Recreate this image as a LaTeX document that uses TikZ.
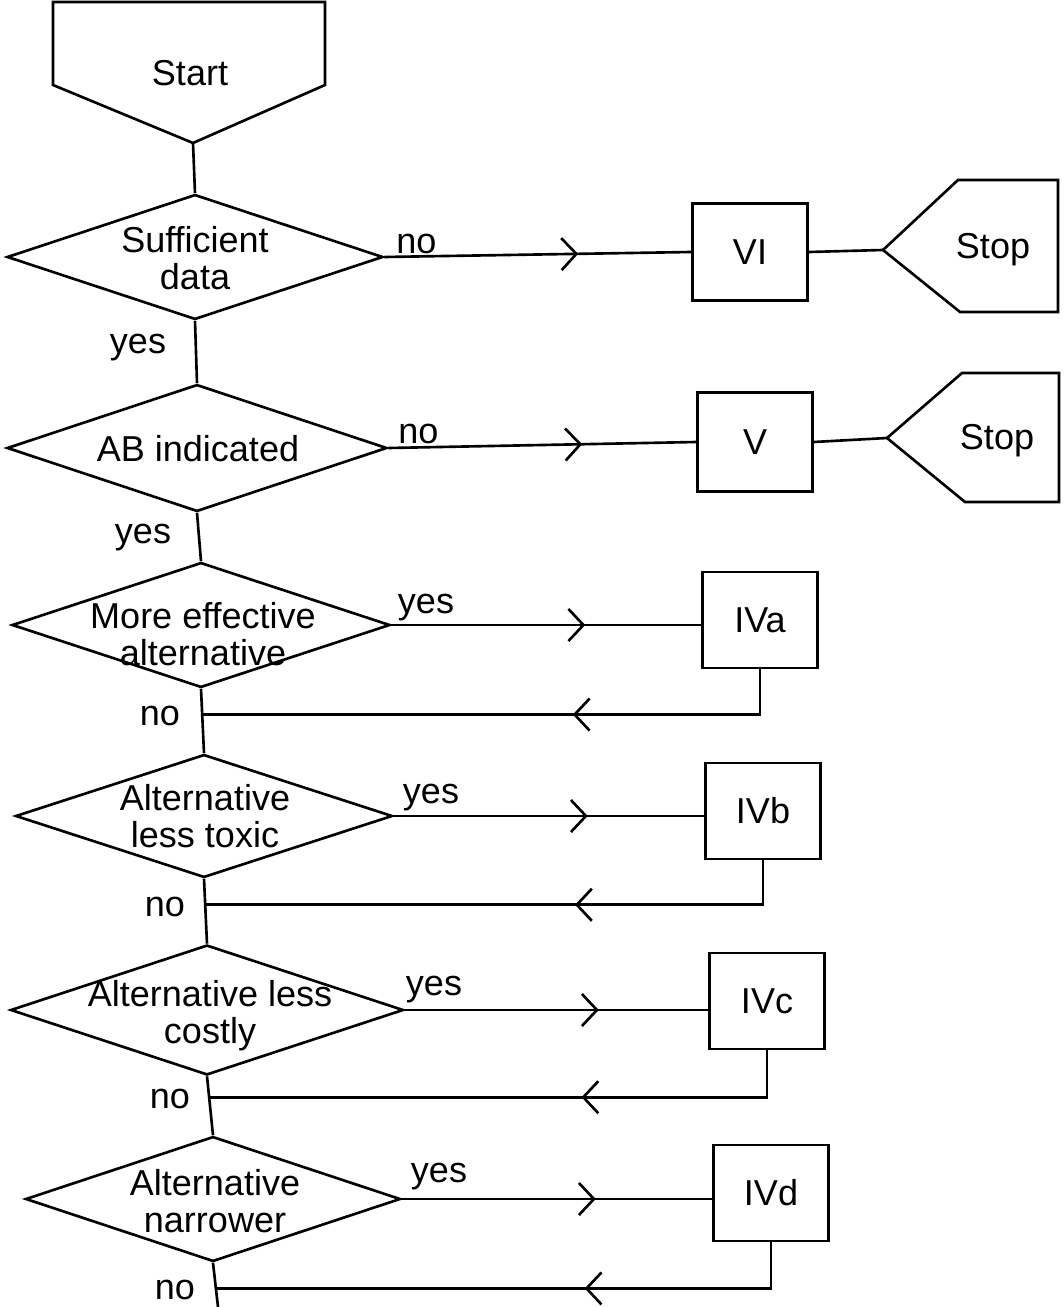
\documentclass[tikz,border=0pt]{standalone}
\usepackage{fontspec}
\setmainfont{Liberation Sans}
\usetikzlibrary{shapes.geometric,arrows.meta,decorations.markings,calc}
\begin{document}
\begin{tikzpicture}[x=0.02cm,y=-0.02cm,
  line/.style={line width=1.5pt, draw=black, line join=miter},
  box/.style={draw, line width=1.5pt, minimum width=2.3cm, minimum height=1.92cm, inner sep=0pt},
  dia/.style={diamond, draw, line width=1.5pt, inner sep=0pt},
  txt/.style={font=\fontsize{20.5}{21}\selectfont, align=center, inner sep=0pt},
  lbl/.style={font=\fontsize{20.5}{21}\selectfont, inner sep=0pt},
  chev/.tip={Straight Barb[length=0.3cm,width=0.64cm,line width=1.5pt]},
  fwd/.style={postaction={decorate,decoration={markings,mark=at position 3.88cm with {\arrow{chev}}}}},
  bwd/.style={postaction={decorate,decoration={markings,mark=at position 4.65cm with {\arrow{chev}}}}}]
\fill[white] (0,0) rectangle (1063,1307);
\useasboundingbox (0,0) rectangle (1063,1307);

% Start
\draw[line] (53,2) -- (325,2) -- (325,85) -- (193,143) -- (53,85) -- cycle;
\coordinate (st) at (193,143);
\node[txt] (starttxt) at (190,73) {Start};

% Decisions
\node[dia, minimum width=7.52cm, minimum height=2.5cm] (d1) at (195,257) {};
\node[txt] (t1) at (195,258) {Sufficient\\data};
\node[dia, minimum width=7.6cm, minimum height=2.54cm] (d2) at (197,448) {};
\node[txt] (t2) at (198,449) {AB indicated};
\node[dia, minimum width=7.56cm, minimum height=2.5cm] (d3) at (201,625) {};
\node[txt] (t3) at (203,634) {More effective\\alternative};
\node[dia, minimum width=7.54cm, minimum height=2.46cm] (d4) at (204,816) {};
\node[txt] (t4) at (205,816) {Alternative\\less toxic};
\node[dia, minimum width=7.86cm, minimum height=2.6cm] (d5) at (207,1010) {};
\node[txt] (t5) at (210,1016) {Alternative less\\costly};
\node[dia, minimum width=7.5cm, minimum height=2.5cm] (d6) at (213,1199) {};
\node[txt] (t6) at (215,1201) {Alternative\\narrower};
\coordinate (bot) at (218,1307);

% Boxes
\node[box, minimum height=1.94cm] (VI) at (750,252) {\fontsize{20.5}{21}\selectfont VI};
\node[box, minimum height=1.98cm] (V) at (755,442) {\fontsize{20.5}{21}\selectfont V};
\node[box] (IVa) at (760,620) {\fontsize{20.5}{21}\selectfont IVa};
\node[box] (IVb) at (763,811) {\fontsize{20.5}{21}\selectfont IVb};
\node[box] (IVc) at (767,1001) {\fontsize{20.5}{21}\selectfont IVc};
\node[box] (IVd) at (771,1193) {\fontsize{20.5}{21}\selectfont IVd};

% Stops
\draw[line] (883,250) -- (958,180) -- (1058,180) -- (1058,312) -- (960,312) -- cycle;
\coordinate (s1) at (883,250);
\node[txt] (stop1) at (993,250) {Stop};
\draw[line] (887,438) -- (962,373) -- (1059,373) -- (1059,502) -- (965,502) -- cycle;
\coordinate (s2) at (887,438);
\node[txt] (stop2) at (997,441) {Stop};

% Spine
\draw[line] (st) -- (d1.north);
\draw[line] (d1.south) -- (d2.north);
\draw[line] (d2.south) -- (d3.north);
\draw[line] (d3.south) -- (d4.north);
\draw[line] (d4.south) -- (d5.north);
\draw[line] (d5.south) -- (d6.north);
\draw[line] (d6.south) -- (bot);
\coordinate (j3) at ($(d3.south)!0.4!(d4.north)$);
\coordinate (j4) at ($(d4.south)!0.4!(d5.north)$);
\coordinate (j5) at ($(d5.south)!0.355!(d6.north)$);
\coordinate (j6) at ($(d6.south)!0.58!(bot)$);

% Forward connectors
\draw[line, fwd] (d1.east) -- (VI.west);
\draw[line, fwd] (d2.east) -- (V.west);
\draw[line, fwd] (d3.east) -- (d3.east -| IVa.west);
\draw[line, fwd] (d4.east) -- (d4.east -| IVb.west);
\draw[line, fwd] (d5.east) -- (d5.east -| IVc.west);
\draw[line, fwd] (d6.east) -- (d6.east -| IVd.west);
\draw[line] (VI.east) -- (s1);
\draw[line] (V.east) -- (s2);

% Return connectors
\draw[line, bwd] (IVa.south) |- (j3);
\draw[line, bwd] (IVb.south) |- (j4);
\draw[line, bwd] (IVc.south) |- (j5);
\draw[line, bwd] (IVd.south) |- (j6);

% Labels
\node[lbl, anchor=base west] (n1) at (396,254) {no};
\node[lbl, anchor=base west] (n2) at (398,443) {no};
\node[lbl] (y1) at (138,348) {yes};
\node[lbl] (y2) at (143,538) {yes};
\node[lbl] (y3) at (426,608) {yes};
\node[lbl] (y4) at (431,798) {yes};
\node[lbl] (y5) at (434,990) {yes};
\node[lbl] (y6) at (439,1177) {yes};
\node[lbl] (n3) at (160,716) {no};
\node[lbl] (n4) at (165,907) {no};
\node[lbl] (n5) at (170,1099) {no};
\node[lbl] (n6) at (175,1290) {no};
\end{tikzpicture}
\end{document}
